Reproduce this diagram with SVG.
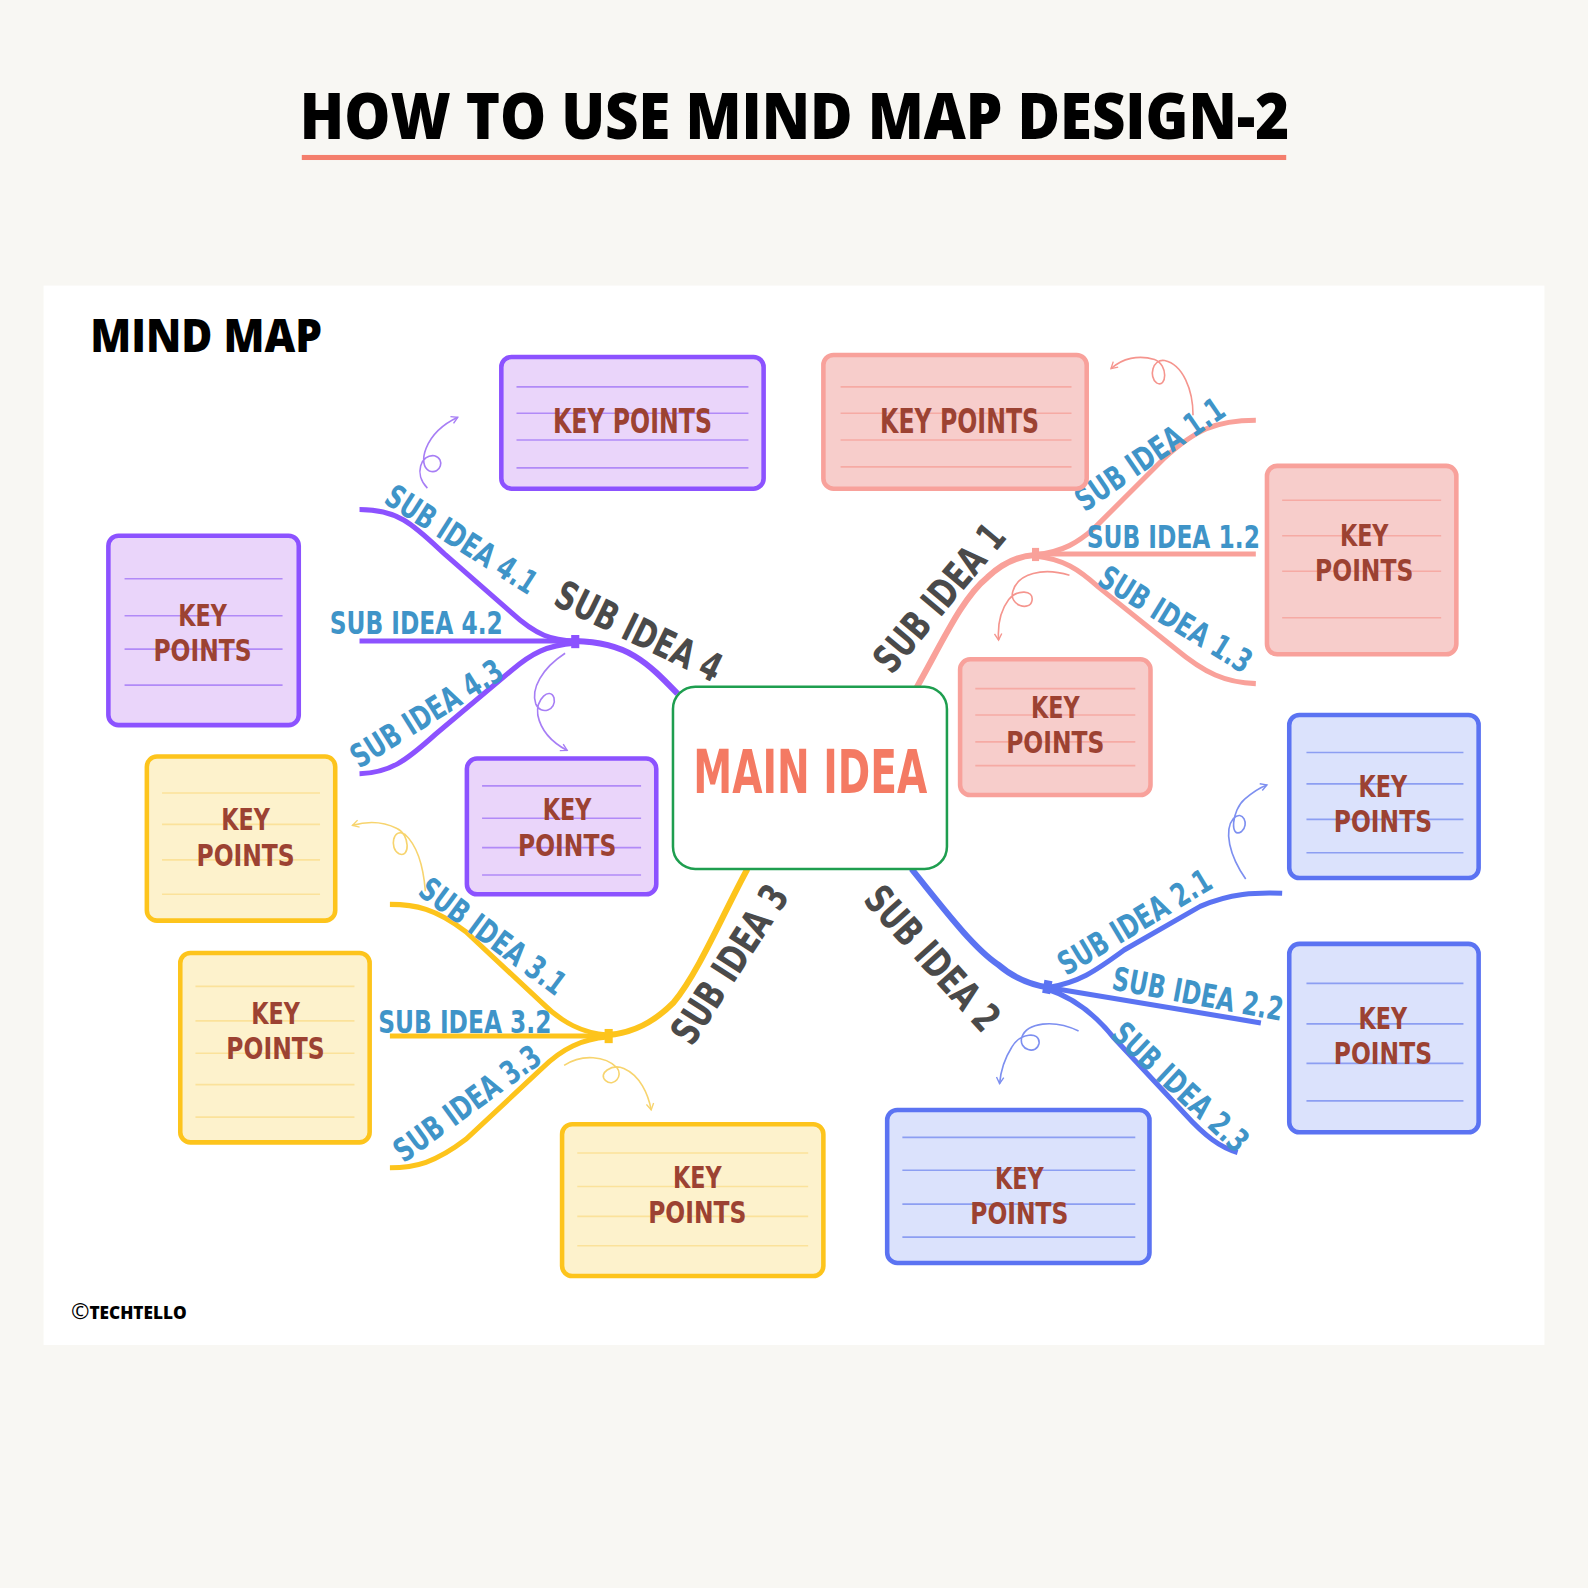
<svg xmlns="http://www.w3.org/2000/svg" width="1588" height="1588" viewBox="0 0 1588 1588">
<defs>
<style>
.ttl{font-family:"Open Sans","Liberation Sans",sans-serif;font-weight:800;fill:#000}
.kp text{font-family:"DejaVu Sans","Liberation Sans",sans-serif;font-weight:bold;font-size:29.5px;fill:#9c4232;text-anchor:middle}
.kp text.one{font-size:34px}
.kp rect{stroke-width:4.5}
.kp line{stroke-width:1.6}
.pu rect{fill:#ead5fa;stroke:#8c52ff}
.pu line{stroke:#b18af7}
.sa rect{fill:#f7cdcb;stroke:#f8a19b}
.sa line{stroke:#f6aaa4}
.bl rect{fill:#dbe2fc;stroke:#5b73f2}
.bl line{stroke:#8c9ef2}
.ye rect{fill:#fdf2cc;stroke:#fdc41c}
.ye line{stroke:#fbe29a}
.br{fill:none;stroke-linecap:butt}
.m{stroke-width:6}
.s{stroke-width:5}
.cu{fill:none;stroke-width:1.6}
.lm{font-family:"DejaVu Sans","Liberation Sans",sans-serif;font-weight:bold;font-size:39px;fill:#4a4a4a;text-anchor:middle}
.ls{font-family:"DejaVu Sans","Liberation Sans",sans-serif;font-weight:bold;font-size:32px;fill:#3f94c8;text-anchor:middle}
</style>
<marker id="ap" viewBox="0 0 10 10" refX="8" refY="5" markerWidth="9" markerHeight="9" markerUnits="userSpaceOnUse" orient="auto"><path d="M1,1 L8,5 L1,9" fill="none" stroke="#a77ef5" stroke-width="1.5"/></marker>
<marker id="as" viewBox="0 0 10 10" refX="8" refY="5" markerWidth="9" markerHeight="9" markerUnits="userSpaceOnUse" orient="auto"><path d="M1,1 L8,5 L1,9" fill="none" stroke="#f5958e" stroke-width="1.5"/></marker>
<marker id="ab" viewBox="0 0 10 10" refX="8" refY="5" markerWidth="9" markerHeight="9" markerUnits="userSpaceOnUse" orient="auto"><path d="M1,1 L8,5 L1,9" fill="none" stroke="#7d8ff0" stroke-width="1.5"/></marker>
<marker id="ay" viewBox="0 0 10 10" refX="8" refY="5" markerWidth="9" markerHeight="9" markerUnits="userSpaceOnUse" orient="auto"><path d="M1,1 L8,5 L1,9" fill="none" stroke="#f7d46e" stroke-width="1.5"/></marker>
</defs>
<rect x="0" y="0" width="1588" height="1588" fill="#f8f7f3"/>
<g transform="scale(1.01276)">
<rect x="43" y="282" width="1482" height="1046" fill="#ffffff"/>
<text class="ttl" x="784.5" y="137" font-size="63" text-anchor="middle" textLength="977" lengthAdjust="spacingAndGlyphs">HOW TO USE MIND MAP DESIGN-2</text>
<rect x="298" y="153" width="972" height="5" fill="#f47e6c"/>
<text class="ttl" x="89" y="348" font-size="45" textLength="229" lengthAdjust="spacingAndGlyphs">MIND MAP</text>
<text class="ttl" x="70" y="1302" font-size="18" font-weight="700"><tspan font-size="22" font-weight="400">©</tspan><tspan textLength="96" lengthAdjust="spacingAndGlyphs">TECHTELLO</tspan></text>

<g id="connectors">
<!-- branch 1 salmon -->
<g stroke="#f9a19a">
<path class="br m" d="M905,679 C930,635 950,590 975,570 C990,556 1005,549 1022,548"/>
<path class="br s" d="M1022,548 C1050,545 1065,535 1080,522 L1150,452 C1180,425 1200,415 1240,415"/>
<path class="br s" d="M1022,547 L1240,547"/>
<path class="br s" d="M1022,549 C1050,552 1065,562 1085,580 L1160,640 C1190,665 1210,674 1240,675"/>
<rect x="1019" y="541" width="7" height="13" fill="#f9a19a" stroke="none"/>
<path class="cu" stroke="#f5958e" marker-end="url(#as)" d="M1178,410 C1178,385 1168,360 1150,356 C1138,354 1134,372 1142,378 C1152,384 1154,360 1140,355 C1124,350 1108,354 1097,364"/>
<path class="cu" stroke="#f5958e" marker-end="url(#as)" d="M1056,568 C1030,560 1005,566 1000,584 C996,598 1017,604 1019,593 C1021,582 1004,582 996,592 C987,604 985,618 986,632"/>
</g>
<!-- branch 2 blue -->
<g stroke="#5b73f2">
<path class="br m" d="M900,858 C930,895 960,935 985,952 C1000,965 1015,972 1035,975"/>
<path class="br s" d="M1035,975 C1065,970 1080,960 1110,938 L1185,895 C1215,882 1240,881 1266,882"/>
<path class="br s" d="M1035,975 L1245,1010"/>
<path class="br s" d="M1035,977 C1060,985 1080,1000 1100,1025 L1170,1100 C1190,1122 1205,1133 1222,1138"/>
<rect x="1030" y="968" width="8" height="13" fill="#5b73f2" stroke="none" transform="rotate(10 1034 975)"/>
<path class="cu" stroke="#7d8ff0" marker-end="url(#ab)" d="M1230,868 C1214,845 1208,820 1218,808 C1227,799 1234,814 1226,821 C1214,829 1216,800 1229,789 C1237,782 1243,778 1251,775"/>
<path class="cu" stroke="#7d8ff0" marker-end="url(#ab)" d="M1065,1018 C1040,1006 1014,1010 1009,1024 C1005,1037 1024,1042 1026,1030 C1027,1018 1007,1020 999,1034 C992,1045 988,1058 987,1070"/>
</g>
<!-- branch 3 yellow -->
<g stroke="#fdc41c">
<path class="br m" d="M738,858 C715,900 690,960 665,990 C645,1010 625,1020 600,1022"/>
<path class="br s" d="M600,1022 C575,1020 555,1010 535,990 L460,920 C430,897 410,893 385,893"/>
<path class="br s" d="M600,1023 L385,1023"/>
<path class="br s" d="M600,1024 C575,1026 555,1035 535,1055 L460,1125 C430,1148 410,1153 385,1153"/>
<rect x="597" y="1016" width="8" height="14" fill="#fdc41c" stroke="none"/>
<path class="cu" stroke="#f7d46e" marker-end="url(#ay)" d="M420,880 C418,855 412,835 400,824 C388,816 384,838 394,843 C405,848 405,824 392,818 C378,811 362,811 348,815"/>
<path class="cu" stroke="#f7d46e" marker-end="url(#ay)" d="M557,1052 C575,1040 598,1043 609,1054 C616,1062 606,1074 598,1067 C590,1060 604,1050 616,1055 C632,1062 640,1080 643,1096"/>
</g>
<!-- branch 4 purple -->
<g stroke="#8c52ff">
<path class="br m" d="M669,685 C640,655 620,634 568,633"/>
<path class="br s" d="M355,503 C395,503 410,520 440,548 L505,605 C530,628 545,632 568,633"/>
<path class="br s" d="M355,633 L568,633"/>
<path class="br s" d="M568,635 C540,637 525,645 505,662 L430,725 C400,752 385,763 355,764"/>
<rect x="564" y="627" width="8" height="13" fill="#8c52ff" stroke="none"/>
<path class="cu" stroke="#a77ef5" marker-end="url(#ap)" d="M422,482 C408,468 416,448 429,450 C440,453 435,469 424,465 C412,460 418,428 452,412"/>
<path class="cu" stroke="#a77ef5" marker-end="url(#ap)" d="M558,645 C535,660 524,680 529,695 C534,707 550,701 547,689 C543,678 529,690 531,706 C534,721 545,733 560,741"/>
</g>
<!-- labels -->
<text class="lm" transform="translate(927 590) rotate(-50)" x="0" y="14" textLength="178" lengthAdjust="spacingAndGlyphs">SUB IDEA 1</text>
<text class="lm" transform="translate(921 946) rotate(48)" x="0" y="14" textLength="178" lengthAdjust="spacingAndGlyphs">SUB IDEA 2</text>
<text class="lm" transform="translate(720 952) rotate(-57)" x="0" y="14" textLength="178" lengthAdjust="spacingAndGlyphs">SUB IDEA 3</text>
<text class="lm" transform="translate(631 623) rotate(26)" x="0" y="14" textLength="178" lengthAdjust="spacingAndGlyphs">SUB IDEA 4</text>
<text class="ls" transform="translate(1135 448) rotate(-34.4)" x="0" y="11.7" textLength="171" lengthAdjust="spacingAndGlyphs">SUB IDEA 1.1</text>
<text class="ls" x="1158.5" y="541" textLength="171" lengthAdjust="spacingAndGlyphs">SUB IDEA 1.2</text>
<text class="ls" transform="translate(1161 611) rotate(31.5)" x="0" y="11.7" textLength="171" lengthAdjust="spacingAndGlyphs">SUB IDEA 1.3</text>
<text class="ls" transform="translate(1120 910) rotate(-31)" x="0" y="11.7" textLength="171" lengthAdjust="spacingAndGlyphs">SUB IDEA 2.1</text>
<text class="ls" transform="translate(1183 981) rotate(10.6)" x="0" y="11.7" textLength="171" lengthAdjust="spacingAndGlyphs">SUB IDEA 2.2</text>
<text class="ls" transform="translate(1166 1073) rotate(43)" x="0" y="11.7" textLength="171" lengthAdjust="spacingAndGlyphs">SUB IDEA 2.3</text>
<text class="ls" transform="translate(487 924) rotate(36.4)" x="0" y="11.7" textLength="171" lengthAdjust="spacingAndGlyphs">SUB IDEA 3.1</text>
<text class="ls" x="459" y="1020" textLength="171" lengthAdjust="spacingAndGlyphs">SUB IDEA 3.2</text>
<text class="ls" transform="translate(461 1089) rotate(-36)" x="0" y="11.7" textLength="171" lengthAdjust="spacingAndGlyphs">SUB IDEA 3.3</text>
<text class="ls" transform="translate(456 532) rotate(32.6)" x="0" y="11.7" textLength="171" lengthAdjust="spacingAndGlyphs">SUB IDEA 4.1</text>
<text class="ls" x="411" y="626" textLength="171" lengthAdjust="spacingAndGlyphs">SUB IDEA 4.2</text>
<text class="ls" transform="translate(421 704) rotate(-32)" x="0" y="11.7" textLength="171" lengthAdjust="spacingAndGlyphs">SUB IDEA 4.3</text>
</g>

<g id="main-idea">
<rect x="664.5" y="678" width="270.5" height="180" rx="22" fill="#ffffff" stroke="#1e9e4f" stroke-width="2.5"/>
<text transform="translate(800 783) scale(0.645 1)" x="0" y="0" font-family="DejaVu Sans, Liberation Sans, sans-serif" font-weight="bold" font-size="60" fill="#f47a63" text-anchor="middle" textLength="358" lengthAdjust="spacingAndGlyphs">MAIN IDEA</text>
</g>

<g id="kp-purple-top" class="kp pu">
<rect x="495" y="352.5" width="259" height="130" rx="10"/>
<line x1="510" y1="382" x2="739" y2="382"/><line x1="510" y1="408" x2="739" y2="408"/><line x1="510" y1="434.5" x2="739" y2="434.5"/><line x1="510" y1="462" x2="739" y2="462"/>
<text class="one" x="624.5" y="427.5" textLength="157" lengthAdjust="spacingAndGlyphs">KEY POINTS</text>
</g>
<g id="kp-salmon-top" class="kp sa">
<rect x="813" y="350.5" width="260" height="132" rx="10"/>
<line x1="830" y1="382" x2="1058" y2="382"/><line x1="830" y1="408" x2="1058" y2="408"/><line x1="830" y1="434.5" x2="1058" y2="434.5"/><line x1="830" y1="461" x2="1058" y2="461"/>
<text class="one" x="947.5" y="427.5" textLength="157" lengthAdjust="spacingAndGlyphs">KEY POINTS</text>
</g>
<g id="kp-salmon-right" class="kp sa">
<rect x="1251" y="460" width="187" height="186" rx="10"/>
<line x1="1266" y1="494" x2="1423" y2="494"/><line x1="1266" y1="529" x2="1423" y2="529"/><line x1="1266" y1="564" x2="1423" y2="564"/><line x1="1266" y1="610" x2="1423" y2="610"/>
<text><tspan x="1347" y="539" textLength="48" lengthAdjust="spacingAndGlyphs">KEY</tspan><tspan x="1347" y="574" textLength="97" lengthAdjust="spacingAndGlyphs">POINTS</tspan></text>
</g>
<g id="kp-salmon-mid" class="kp sa">
<rect x="948" y="651" width="188" height="134" rx="10"/>
<line x1="963" y1="680" x2="1121" y2="680"/><line x1="963" y1="706" x2="1121" y2="706"/><line x1="963" y1="732.5" x2="1121" y2="732.5"/><line x1="963" y1="756" x2="1121" y2="756"/>
<text><tspan x="1042" y="709" textLength="48" lengthAdjust="spacingAndGlyphs">KEY</tspan><tspan x="1042" y="744" textLength="97" lengthAdjust="spacingAndGlyphs">POINTS</tspan></text>
</g>
<g id="kp-blue-right-top" class="kp bl">
<rect x="1273" y="706" width="187" height="161" rx="10"/>
<line x1="1290" y1="743" x2="1445" y2="743"/><line x1="1290" y1="774" x2="1445" y2="774"/><line x1="1290" y1="809" x2="1445" y2="809"/><line x1="1290" y1="842" x2="1445" y2="842"/>
<text><tspan x="1365.5" y="787" textLength="48" lengthAdjust="spacingAndGlyphs">KEY</tspan><tspan x="1365.5" y="822" textLength="97" lengthAdjust="spacingAndGlyphs">POINTS</tspan></text>
</g>
<g id="kp-blue-right-bottom" class="kp bl">
<rect x="1273" y="932" width="187" height="186" rx="10"/>
<line x1="1290" y1="971" x2="1445" y2="971"/><line x1="1290" y1="1011" x2="1445" y2="1011"/><line x1="1290" y1="1050" x2="1445" y2="1050"/><line x1="1290" y1="1087" x2="1445" y2="1087"/>
<text><tspan x="1365.5" y="1016" textLength="48" lengthAdjust="spacingAndGlyphs">KEY</tspan><tspan x="1365.5" y="1051" textLength="97" lengthAdjust="spacingAndGlyphs">POINTS</tspan></text>
</g>
<g id="kp-blue-bottom" class="kp bl">
<rect x="876" y="1096" width="259" height="151" rx="10"/>
<line x1="891" y1="1123" x2="1121" y2="1123"/><line x1="891" y1="1155.5" x2="1121" y2="1155.5"/><line x1="891" y1="1189" x2="1121" y2="1189"/><line x1="891" y1="1221.5" x2="1121" y2="1221.5"/>
<text><tspan x="1006.5" y="1174" textLength="48" lengthAdjust="spacingAndGlyphs">KEY</tspan><tspan x="1006.5" y="1209" textLength="97" lengthAdjust="spacingAndGlyphs">POINTS</tspan></text>
</g>
<g id="kp-yellow-bottom" class="kp ye">
<rect x="555" y="1110" width="258" height="150" rx="10"/>
<line x1="570" y1="1138.5" x2="798" y2="1138.5"/><line x1="570" y1="1171.5" x2="798" y2="1171.5"/><line x1="570" y1="1201" x2="798" y2="1201"/><line x1="570" y1="1230" x2="798" y2="1230"/>
<text><tspan x="688.5" y="1173" textLength="48" lengthAdjust="spacingAndGlyphs">KEY</tspan><tspan x="688.5" y="1208" textLength="97" lengthAdjust="spacingAndGlyphs">POINTS</tspan></text>
</g>
<g id="kp-yellow-left-bottom" class="kp ye">
<rect x="178" y="941" width="187" height="187" rx="10"/>
<line x1="193" y1="974" x2="350" y2="974"/><line x1="193" y1="1008" x2="350" y2="1008"/><line x1="193" y1="1040" x2="350" y2="1040"/><line x1="193" y1="1071" x2="350" y2="1071"/><line x1="193" y1="1103" x2="350" y2="1103"/>
<text><tspan x="272" y="1011" textLength="48" lengthAdjust="spacingAndGlyphs">KEY</tspan><tspan x="272" y="1046" textLength="97" lengthAdjust="spacingAndGlyphs">POINTS</tspan></text>
</g>
<g id="kp-yellow-left-top" class="kp ye">
<rect x="145" y="747" width="186" height="162" rx="10"/>
<line x1="160" y1="783" x2="316" y2="783"/><line x1="160" y1="814" x2="316" y2="814"/><line x1="160" y1="849" x2="316" y2="849"/><line x1="160" y1="883" x2="316" y2="883"/>
<text><tspan x="242.5" y="820" textLength="48" lengthAdjust="spacingAndGlyphs">KEY</tspan><tspan x="242.5" y="855" textLength="97" lengthAdjust="spacingAndGlyphs">POINTS</tspan></text>
</g>
<g id="kp-purple-mid" class="kp pu">
<rect x="461" y="749" width="187" height="134" rx="10"/>
<line x1="476" y1="776" x2="633" y2="776"/><line x1="476" y1="808" x2="633" y2="808"/><line x1="476" y1="837" x2="633" y2="837"/><line x1="476" y1="864" x2="633" y2="864"/>
<text><tspan x="560" y="810" textLength="48" lengthAdjust="spacingAndGlyphs">KEY</tspan><tspan x="560" y="845" textLength="97" lengthAdjust="spacingAndGlyphs">POINTS</tspan></text>
</g>
<g id="kp-purple-left" class="kp pu">
<rect x="107" y="529" width="188" height="187" rx="10"/>
<line x1="123" y1="571.5" x2="279" y2="571.5"/><line x1="123" y1="608" x2="279" y2="608"/><line x1="123" y1="641" x2="279" y2="641"/><line x1="123" y1="676.5" x2="279" y2="676.5"/>
<text><tspan x="200" y="618" textLength="48" lengthAdjust="spacingAndGlyphs">KEY</tspan><tspan x="200" y="653" textLength="97" lengthAdjust="spacingAndGlyphs">POINTS</tspan></text>
</g>
</g>
</svg>
